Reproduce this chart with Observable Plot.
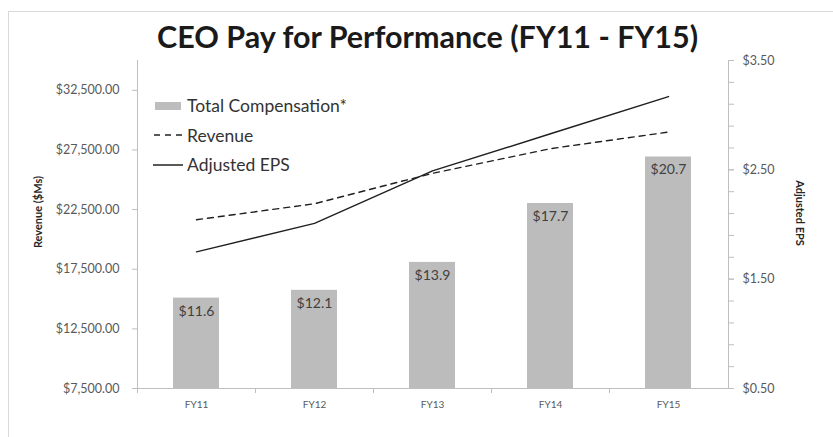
<!DOCTYPE html>
<html>
<head>
<meta charset="utf-8">
<script src="https://cdn.jsdelivr.net/npm/d3@7"></script>
<script src="https://cdn.jsdelivr.net/npm/@observablehq/plot@0.6"></script>
<style>
  html, body { margin: 0; padding: 0; background: #fff; }
  #chart { position: relative; width: 833px; height: 437px; overflow: hidden; font-family: Lato, "Open Sans", sans-serif; }
  #frame { position: absolute; left: 8px; top: 11px; width: 840px; height: 440px; border-left: 1px solid #d9d9d9; border-top: 1px solid #d9d9d9; pointer-events: none; }
  #title { height: 58px; box-sizing: border-box; padding-top: 21px; padding-left: 22px; text-align: center; font-size: 30.5px; font-weight: bold; line-height: 1; color: #1a1a1a; }
  .axlabel { position: absolute; font-size: 11px; font-weight: bold; color: #262626; white-space: nowrap; }
  #legend { position: absolute; left: 153px; top: 91px; font-size: 17.5px; color: #333; }
  .lg { height: 29.5px; display: flex; align-items: center; }
  .sw { width: 30px; margin-right: 4px; display: flex; align-items: center; }
</style>
</head>
<body>
<div id="chart">
  <div id="title">CEO Pay for Performance (FY11 - FY15)</div>
  <div id="plot"></div>
  <div class="axlabel" style="left:37px; top:212px; transform: translate(-50%,-50%) rotate(-90deg);">Revenue ($Ms)</div>
  <div class="axlabel" style="left:800px; top:213px; transform: translate(-50%,-50%) rotate(90deg);">Adjusted EPS</div>
  <div id="legend">
    <div class="lg"><div class="sw"><svg width="30" height="10"><rect x="2" y="1" width="26" height="8" fill="#bdbdbd"/></svg></div>Total Compensation*</div>
    <div class="lg"><div class="sw"><svg width="30" height="4"><line x1="1" y1="2" x2="30" y2="2" stroke="#222" stroke-width="1.5" stroke-dasharray="6,5"/></svg></div>Revenue</div>
    <div class="lg"><div class="sw"><svg width="30" height="4"><line x1="0" y1="2" x2="30" y2="2" stroke="#222" stroke-width="1.5"/></svg></div>Adjusted EPS</div>
  </div>
  <div id="frame"></div>
</div>
<script>
// ---- data ----
const categories = ["FY11", "FY12", "FY13", "FY14", "FY15"];
const compensation = [11.6, 12.1, 13.9, 17.7, 20.7];   // $M, bars (hidden axis)
const revenue = [21650, 22990, 25540, 27610, 29000];    // $Ms, left axis
const adjustedEps = [1.75, 2.01, 2.49, 2.83, 3.17];      // $, right axis
const revenueTicks = [7500, 12500, 17500, 22500, 27500, 32500];
const revenueDomain = [7500, 35000];
const epsDomain = [0.5, 3.5];
const epsLabelTicks = [0.5, 1.5, 2.5, 3.5];
const epsMinorTicks = [0.5, 0.7, 0.9, 1.1, 1.3, 1.5, 1.7, 1.9, 2.1, 2.3, 2.5, 2.7, 2.9, 3.1, 3.3, 3.5];
const compensationAxisFactor = 1300; // hidden compensation axis, in revenue units per $M

// ---- mapping of secondary axes onto the primary (revenue) scale ----
const epsToY = d3.scaleLinear().domain(epsDomain).range(revenueDomain);
const compToY = c => c * compensationAxisFactor;

const data = categories.map((c, i) => ({
  cat: c, comp: compensation[i], rev: revenue[i], eps: adjustedEps[i]
}));

const axisGray = "#bfbfbf";
const textGray = "#595959";
const font = "Lato, 'Open Sans', sans-serif";

const plot = Plot.plot({
  width: 833,
  height: 379,
  marginTop: 2,
  marginBottom: 49,
  marginLeft: 137,
  marginRight: 105,
  style: { fontFamily: font, background: "transparent", overflow: "visible" },
  x: { domain: categories, paddingInner: 0.61, paddingOuter: 0.305, axis: null },
  y: { domain: revenueDomain, axis: null },
  marks: [
    Plot.barY(data, { x: "cat", y1: revenueDomain[0], y2: d => compToY(d.comp), fill: "#bcbcbc" }),
    Plot.text(data, { x: "cat", y: d => compToY(d.comp), text: d => "$" + d.comp.toFixed(1), dy: 13, fontSize: 14, fill: "#404040" }),
    Plot.line(data, { x: "cat", y: "rev", stroke: "#1f1f1f", strokeWidth: 1.4, strokeDasharray: "6,5" }),
    Plot.line(data, { x: "cat", y: d => epsToY(d.eps), stroke: "#1f1f1f", strokeWidth: 1.4 }),
    // axis lines
    Plot.frame({ anchor: "left", stroke: axisGray }),
    Plot.frame({ anchor: "right", stroke: axisGray }),
    Plot.frame({ anchor: "bottom", stroke: axisGray }),
    // left axis
    Plot.axisY(revenueTicks, {
      anchor: "left", tickSize: 5, tickPadding: 13, stroke: axisGray, fill: textGray, fontSize: 12.5,
      tickFormat: d => "$" + d3.format(",.2f")(d), label: null
    }),
    // right axis
    Plot.axisY(epsMinorTicks.map(epsToY), { anchor: "right", tickSize: 5, stroke: axisGray, text: null, label: null }),
    Plot.axisY(epsLabelTicks.map(epsToY), {
      anchor: "right", tickSize: 5, tickPadding: 9, stroke: axisGray, fill: textGray, fontSize: 12.5,
      tickFormat: d => "$" + epsToY.invert(d).toFixed(2), label: null
    }),
    // x axis
    Plot.axisX({ tickSize: 0, tickPadding: 12, fill: textGray, fontSize: 10, label: null }),
    Plot.axisX({ tickSize: 5, stroke: axisGray, text: null, label: null, dx: -59 })
  ]
});
document.getElementById("plot").appendChild(plot);
</script>
</body>
</html>
